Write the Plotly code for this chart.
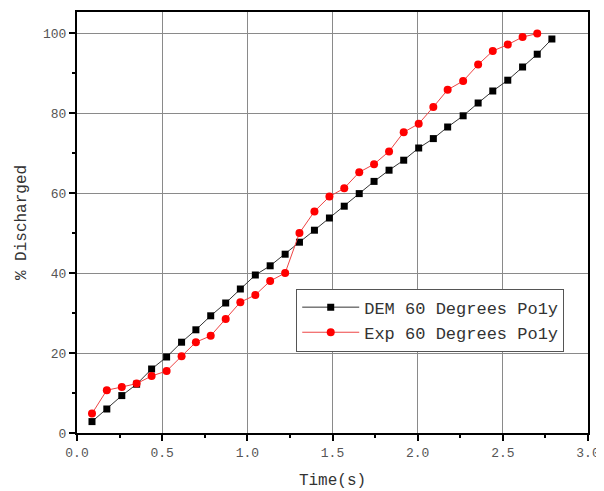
import plotly.graph_objects as go

dem_t = [0.088, 0.175, 0.263, 0.350, 0.438, 0.526, 0.614, 0.698, 0.785, 0.873,
         0.959, 1.047, 1.134, 1.222, 1.306, 1.394, 1.482, 1.569, 1.657, 1.744,
         1.832, 1.918, 2.006, 2.092, 2.176, 2.267, 2.355, 2.441, 2.529, 2.616,
         2.702, 2.788]
dem_y = [2.85, 6.0, 9.35, 12.2, 16.0, 19.0, 22.7, 25.8, 29.3, 32.5,
         36.0, 39.5, 41.8, 44.7, 47.7, 50.7, 53.75, 56.7, 59.85, 62.9,
         65.7, 68.2, 71.25, 73.6, 76.5, 79.3, 82.5, 85.5, 88.2, 91.5,
         94.7, 98.5]

exp_t = [0.088, 0.175, 0.263, 0.350, 0.438, 0.526, 0.614, 0.698, 0.785, 0.873,
         0.959, 1.047, 1.134, 1.222, 1.306, 1.394, 1.482, 1.569, 1.657, 1.744,
         1.832, 1.918, 2.006, 2.092, 2.176, 2.267, 2.355, 2.441, 2.529, 2.616,
         2.702]
exp_y = [4.85, 10.7, 11.5, 12.35, 14.25, 15.5, 19.2, 22.7, 24.3, 28.5,
         32.7, 34.5, 38.0, 40.0, 50.0, 55.4, 59.1, 61.2, 65.2, 67.2,
         70.4, 75.2, 77.3, 81.5, 85.8, 88.0, 92.1, 95.5, 97.1, 99.0,
         99.85]

x_ticks = [0.0, 0.5, 1.0, 1.5, 2.0, 2.5, 3.0]
x_ticklabels = ["0.0", "0.5", "1.0", "1.5", "2.0", "2.5", "3.0"]
y_ticks = [0, 20, 40, 60, 80, 100]
y_ticklabels = ["0", "20", "40", "60", "80", "100"]

FONT = "Liberation Mono, DejaVu Sans Mono, monospace"

fig = go.Figure()
fig.add_trace(go.Scatter(
    x=dem_t, y=dem_y, mode="lines+markers", name="DEM 60 Degrees Po1y",
    line=dict(color="#333333", width=1),
    marker=dict(symbol="square", size=7, color="black"),
))
fig.add_trace(go.Scatter(
    x=exp_t, y=exp_y, mode="lines+markers", name="Exp 60 Degrees Po1y",
    line=dict(color="#ee4444", width=1),
    marker=dict(symbol="circle", size=8, color="#ff0000"),
))

axis_common = dict(
    showline=True, linecolor="black", linewidth=2, mirror=True,
    showgrid=True, gridcolor="#8a8a8a", gridwidth=1,
    ticks="outside", ticklen=6, tickwidth=1.5, tickcolor="black",
    zeroline=False, automargin=False,
    tickfont=dict(family=FONT, size=13, color="#555555"),
)

fig.update_xaxes(
    range=[0, 3.0], tickvals=x_ticks, ticktext=x_ticklabels,
    minor=dict(ticks="outside", dtick=0.25, ticklen=3, tickcolor="black", showgrid=False),
    title=dict(text="Time(s)", font=dict(family=FONT, size=16, color="#333333"), standoff=14),
    **axis_common,
)
fig.update_yaxes(
    range=[0, 105.25], tickvals=y_ticks, ticktext=y_ticklabels,
    minor=dict(ticks="outside", dtick=10, ticklen=3, tickcolor="black", showgrid=False),
    title=dict(text="% Discharged", font=dict(family=FONT, size=16, color="#333333"), standoff=12),
    **axis_common,
)

fig.update_layout(
    width=596, height=483,
    margin=dict(l=69, r=16, t=4, b=58),
    paper_bgcolor="white", plot_bgcolor="white",
    showlegend=True,
    legend=dict(
        x=0.429, y=0.343, xanchor="left", yanchor="top",
        bordercolor="#555555", borderwidth=1, bgcolor="white",
        font=dict(family=FONT, size=17, color="#333333"),
        tracegroupgap=0, itemwidth=57, entrywidth=272,
    ),
)

fig.write_html("out.html")
